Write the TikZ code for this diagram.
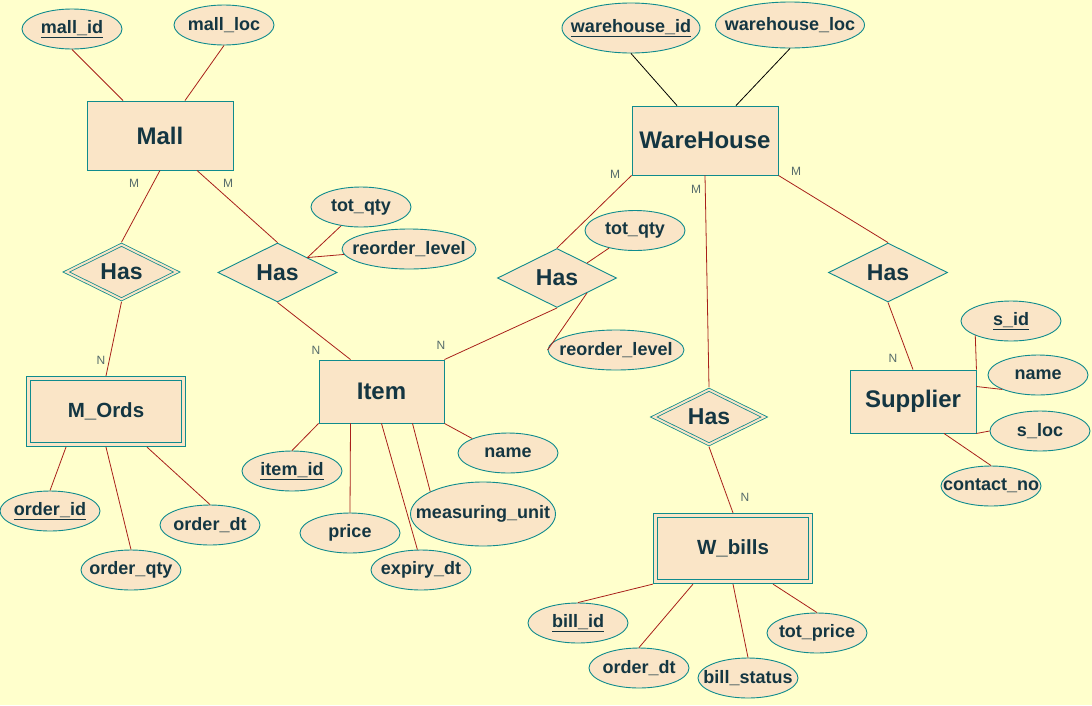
\documentclass[tikz,border=0pt]{standalone}
\usepackage{fontspec}
\setmainfont{Liberation Sans}
\usetikzlibrary{shapes.geometric}

\definecolor{bgyellow}{HTML}{FFFFCC}
\definecolor{erfill}{HTML}{FAE5C7}
\definecolor{erline}{HTML}{0F8B8D}
\definecolor{ertext}{HTML}{143642}
\definecolor{erlink}{HTML}{A8201A}
\definecolor{ercard}{HTML}{566B6B}

\begin{document}
\begin{tikzpicture}[
    x=1pt, y=-1pt,
    entity/.style={draw=erline, fill=erfill, text=ertext, line width=0.9pt, rectangle,
        minimum width=146, minimum height=69, font=\fontsize{24}{28}\selectfont\bfseries},
    weak/.style={entity, double=erfill, double distance=3.5pt, minimum width=155,
        minimum height=66, outer sep=2.6pt, font=\fontsize{20.5}{24}\selectfont\bfseries},
    rel/.style={draw=erline, fill=erfill, text=ertext, line width=0.9pt, diamond, aspect=2,
        inner sep=0pt, minimum width=119, minimum height=59, font=\fontsize{23}{27}\selectfont\bfseries},
    wrel/.style={rel, double=erfill, double distance=2pt, line width=0.8pt,
        minimum width=112, minimum height=56, outer sep=1.8pt},
    attr/.style={draw=erline, fill=erfill, text=ertext, line width=0.9pt, ellipse, inner sep=0pt,
        minimum width=100, minimum height=40, font=\fontsize{18}{21}\selectfont\bfseries,
        execute at begin node={\setbox0=\hbox\bgroup},
        execute at end node={\egroup\hbox to 0pt{\hss\box0\hss}}},
    link/.style={draw=erlink, line width=0.8pt},
    blackline/.style={draw=black, line width=0.8pt},
    card/.style={text=ercard, inner sep=0pt, font=\fontsize{12}{14}\selectfont}
]

\fill[bgyellow] (0,0) rectangle (1092,705);
\useasboundingbox (0,0) rectangle (1092,705);

% entities
\node[entity] (mall) at (160,135.5) {Mall};
\node[entity] (warehouse) at (705,140.5) {WareHouse};
\node[entity, minimum width=125, minimum height=63] (item) at (381.5,391.5) {Item};
\node[entity, minimum width=126, minimum height=63] (supplier) at (913,401.5) {Supplier};
\node[weak] (mords) at (106,411.5) {M\_Ords};
\node[weak] (wbills) at (733,548.5) {W\_bills};

% relationships
\node[wrel] (hasmords) at (121.5,272) {Has};
\node[rel] (hasitem) at (277.5,272.5) {Has};
\node[rel] (hasstock) at (557,278) {Has};
\node[wrel] (hasbills) at (709,417) {Has};
\node[rel] (hassupp) at (888,272.5) {Has};

% attributes
\node[attr] (mallid) at (72,29) {\underline{mall\_id}};
\node[attr] (mallloc) at (224,25) {mall\_loc};
\node[attr] (qtyA) at (361,207) {tot\_qty};
\node[attr, minimum width=134] (reorderA) at (409,249) {reorder\_level};
\node[attr] (orderid) at (50,511) {\underline{order\_id}};
\node[attr] (orderqty) at (131,570) {order\_qty};
\node[attr] (orderdt) at (210,525) {order\_dt};
\node[attr] (itemid) at (292,471) {\underline{item\_id}};
\node[attr] (price) at (350,533) {price};
\node[attr] (expiry) at (421,570) {expiry\_dt};
\node[attr, minimum width=145, minimum height=64] (unit) at (483,514) {measuring\_unit};
\node[attr] (itemname) at (508,453) {name};
\node[attr, minimum width=138, minimum height=50] (whid) at (631,28) {\underline{warehouse\_id}};
\node[attr, minimum width=149, minimum height=46] (whloc) at (790,25) {warehouse\_loc};
\node[attr] (qtyB) at (635,230.5) {tot\_qty};
\node[attr, minimum width=136] (reorderB) at (616,350) {reorder\_level};
\node[attr] (billid) at (578,623) {\underline{bill\_id}};
\node[attr] (orderdtB) at (639,668) {order\_dt};
\node[attr] (billstatus) at (748,678) {bill\_status};
\node[attr] (totprice) at (817,633) {tot\_price};
\node[attr] (sid) at (1011,321) {\underline{s\_id}};
\node[attr] (suppname) at (1038,375) {name};
\node[attr] (sloc) at (1040,431) {s\_loc};
\node[attr] (contact) at (991,486) {contact\_no};

% relationship links
\draw[link] (mall.south) -- (hasmords.north);
\draw[link] ([xshift=37]mall.south) -- (hasitem.north);
\draw[link] (hasmords.south) -- (mords.north);
\draw[link] (hasitem.south) -- ([xshift=-31]item.north);
\draw[link] (qtyA) -- (hasitem.north east);
\draw[link] (reorderA) -- (hasitem.north east);
\draw[link] (item.north east) -- (hasstock.south);
\draw[link] (warehouse.south west) -- (hasstock.north);
\draw[link] (qtyB) -- (hasstock.north east);
\draw[link] (hasstock.south east) -- (reorderB.west);
\draw[link] (warehouse.south) -- (hasbills.north);
\draw[link] (hasbills.south) -- (wbills.north);
\draw[link] (warehouse.south east) -- (hassupp.north);
\draw[link] (hassupp.south) -- (supplier.north);

% attribute links
\draw[link] (mallid.south) -- ([xshift=-37]mall.north);
\draw[link] (mallloc.south) -- ([xshift=25]mall.north);
\draw[blackline] (whid.south) -- ([xshift=-28]warehouse.north);
\draw[blackline] (whloc.south) -- ([xshift=31]warehouse.north);
\draw[link] (item.south west) -- (itemid.north);
\draw[link] ([xshift=-31]item.south) -- (price.north);
\draw[link] (item.south) -- (expiry.100);
\draw[link] ([xshift=31]item.south) -- (unit.157);
\draw[link] (item.south east) -- (itemname.158);
\draw[link] ([xshift=-40]mords.south) -- (orderid.north);
\draw[link] (mords.south) -- (orderqty.north);
\draw[link] ([xshift=41]mords.south) -- (orderdt.north);
\draw[link] (wbills.south west) -- (billid.north);
\draw[link] ([xshift=-40]wbills.south) -- (orderdtB.north);
\draw[link] (wbills.south) -- (billstatus.north);
\draw[link] ([xshift=40]wbills.south) -- (totprice.north);
\draw[link] (supplier.north east) -- (sid.202);
\draw[link] ([yshift=15]supplier.east) -- (suppname.202);
\draw[link] (supplier.south east) -- (sloc.west);
\draw[link] ([xshift=31]supplier.south) -- (contact.north);

% cardinalities
\node[card] (cardA) at (134,183) {M};
\node[card] (cardB) at (228,183) {M};
\node[card] (cardC) at (101,360) {N};
\node[card] (cardD) at (316,350) {N};
\node[card] (cardE) at (441,345) {N};
\node[card] (cardF) at (615,174) {M};
\node[card] (cardG) at (696,189) {M};
\node[card] (cardH) at (796,171) {M};
\node[card] (cardI) at (893,358) {N};
\node[card] (cardJ) at (745,497) {N};

\end{tikzpicture}
\end{document}
